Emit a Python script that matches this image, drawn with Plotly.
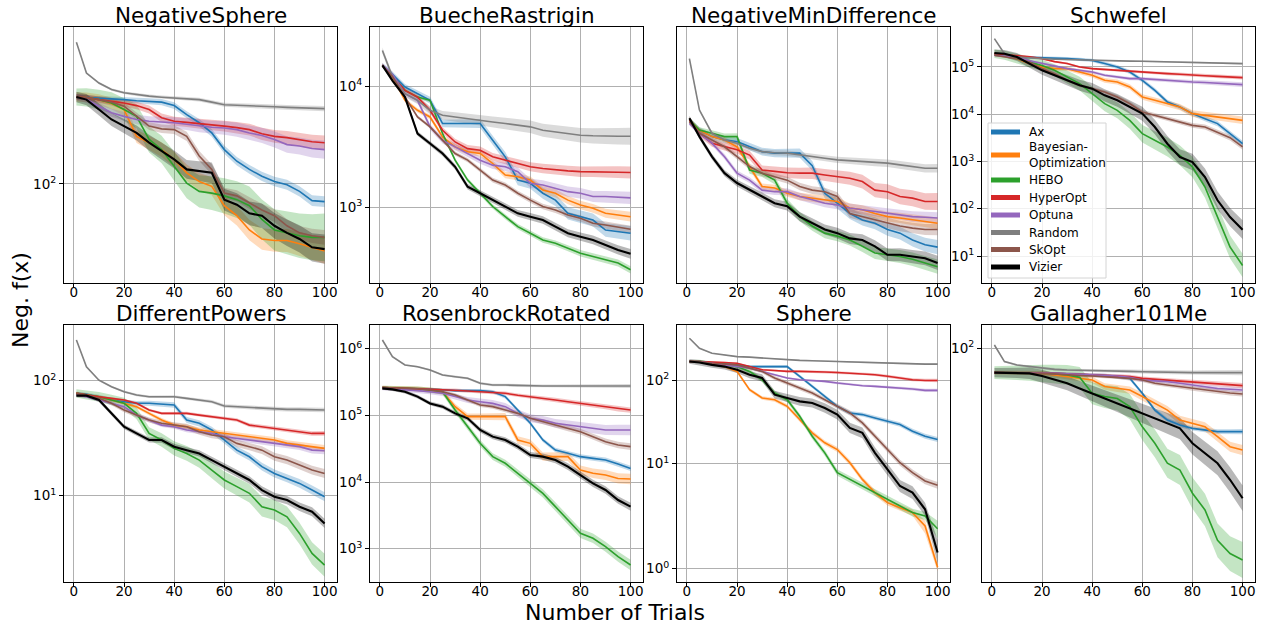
import numpy as np
import plotly.graph_objects as go

TRIALS = [1, 5, 10, 15, 20, 25, 30, 35, 40, 45, 50, 55, 60, 65, 70, 75, 80, 85, 90, 95, 100]
ALGORITHMS = ["Ax", "Bayesian-Optimization", "HEBO", "HyperOpt", "Optuna", "Random", "SkOpt", "Vizier"]
LEGEND_NAMES = ["Ax", "Bayesian-<br>Optimization", "HEBO", "HyperOpt", "Optuna", "Random", "SkOpt", "Vizier"]
COLORS = ["#1f77b4", "#ff7f0e", "#2ca02c", "#d62728", "#9467bd", "#7f7f7f", "#8c564b", "#000000"]
TITLES = ["NegativeSphere", "BuecheRastrigin", "NegativeMinDifference", "Schwefel",
          "DifferentPowers", "RosenbrockRotated", "Sphere", "Gallagher101Me"]

negative_sphere = {
    "Ax": [299, 297, 295, 292, 289, 285, 283, 280, 268, 239, 216, 190, 154, 133, 120, 110, 103, 99, 91, 81, 80],
    "Bayesian-Optimization": [299, 297, 289, 275, 255, 182, 168, 154, 136, 115, 103, 97, 76, 67, 56, 50, 49, 49, 47, 45, 43],
    "HEBO": [299, 297, 289, 277, 255, 234, 175, 154, 125, 101, 91, 89, 86, 82, 76, 64, 56, 54, 52, 51, 51],
    "HyperOpt": [299, 297, 289, 283, 277, 268, 255, 230, 220, 217, 214, 210, 207, 203, 198, 188, 182, 179, 175, 170, 168],
    "Optuna": [299, 290, 266, 245, 234, 225, 220, 218, 216, 212, 207, 204, 202, 198, 190, 184, 175, 164, 161, 156, 154],
    "Random": [596, 404, 356, 328, 315, 308, 302, 298, 295, 292, 289, 280, 271, 269, 268, 266, 264, 262, 260, 259, 258],
    "SkOpt": [299, 297, 289, 280, 266, 234, 207, 200, 198, 182, 142, 120, 89, 86, 79, 72, 67, 59, 54, 52, 51],
    "Vizier": [299, 289, 255, 225, 207, 190, 168, 151, 136, 120, 117, 115, 82, 77, 69, 67, 59, 54, 50, 45, 44],
}
bueche_rastrigin = {
    "Ax": [14800, 12500, 9810, 8600, 7620, 4900, 4900, 4900, 4900, 3560, 2600, 1670, 1570, 1300, 1140, 887, 832, 781, 645, 627, 607],
    "Bayesian-Optimization": [14800, 11900, 7620, 6300, 5550, 3800, 3140, 2860, 2770, 2290, 1840, 1780, 1670, 1380, 1300, 1140, 1040, 975, 887, 859, 832],
    "HEBO": [14800, 12000, 9210, 8100, 7620, 4050, 2440, 1670, 1300, 1010, 832, 689, 607, 534, 501, 456, 415, 390, 366, 344, 303],
    "HyperOpt": [14800, 12000, 9210, 8100, 6300, 4310, 3450, 3040, 2950, 2600, 2440, 2290, 2150, 2080, 2020, 1990, 1960, 1960, 1960, 1940, 1930],
    "Optuna": [14800, 12500, 8650, 7620, 4600, 3560, 3140, 2770, 2440, 2220, 2150, 1960, 1570, 1520, 1430, 1340, 1300, 1220, 1220, 1200, 1190],
    "Random": [19700, 11900, 8650, 7620, 6300, 5730, 5550, 5400, 5210, 5050, 4900, 4750, 4600, 4310, 4180, 4050, 3920, 3880, 3850, 3850, 3850],
    "SkOpt": [14800, 12000, 8110, 5550, 4600, 3560, 2770, 2440, 2020, 1670, 1520, 1300, 1140, 1010, 944, 859, 807, 733, 711, 680, 654],
    "Vizier": [14800, 11100, 8110, 4050, 3350, 2770, 2150, 1470, 1300, 1140, 1010, 887, 832, 781, 689, 607, 569, 534, 486, 442, 410],
}
negative_min_difference = {
    "Ax": [4.20, 3.87, 3.67, 3.57, 3.53, 3.38, 3.25, 3.21, 3.21, 3.21, 2.90, 2.32, 2.14, 1.97, 1.87, 1.82, 1.73, 1.68, 1.59, 1.53, 1.50],
    "Bayesian-Optimization": [4.20, 3.87, 3.67, 3.57, 3.38, 2.88, 2.45, 2.42, 2.32, 2.26, 2.23, 2.20, 2.17, 2.06, 2.03, 1.97, 1.92, 1.90, 1.87, 1.85, 1.82],
    "HEBO": [4.20, 3.87, 3.77, 3.67, 3.67, 2.80, 2.73, 2.58, 2.14, 1.92, 1.78, 1.68, 1.64, 1.59, 1.51, 1.43, 1.41, 1.39, 1.36, 1.32, 1.28],
    "HyperOpt": [4.20, 3.77, 3.48, 3.38, 3.30, 3.16, 2.80, 2.77, 2.74, 2.73, 2.73, 2.69, 2.66, 2.62, 2.55, 2.38, 2.35, 2.26, 2.23, 2.17, 2.17],
    "Optuna": [4.08, 3.77, 3.48, 3.12, 2.73, 2.58, 2.38, 2.35, 2.35, 2.26, 2.20, 2.14, 2.11, 2.06, 2.03, 2.00, 1.97, 1.95, 1.92, 1.91, 1.90],
    "Random": [6.90, 4.55, 3.77, 3.57, 3.48, 3.34, 3.25, 3.22, 3.21, 3.16, 3.12, 3.08, 3.04, 3.02, 3.00, 2.97, 2.96, 2.92, 2.88, 2.84, 2.84],
    "SkOpt": [4.14, 3.77, 3.57, 3.38, 3.12, 2.88, 2.73, 2.66, 2.58, 2.45, 2.38, 2.35, 2.26, 1.97, 1.92, 1.87, 1.82, 1.78, 1.75, 1.73, 1.73],
    "Vizier": [4.26, 3.67, 3.12, 2.73, 2.52, 2.38, 2.26, 2.14, 2.09, 1.92, 1.82, 1.73, 1.68, 1.61, 1.59, 1.51, 1.41, 1.41, 1.39, 1.37, 1.32],
}
schwefel = {
    "Ax": [191000, 177000, 163000, 160000, 158000, 155000, 150000, 145000, 138000, 118000, 100000, 78300, 52200, 32100, 18200, 14200, 10300, 8070, 6330, 3880, 2380],
    "Bayesian-Optimization": [191000, 177000, 150000, 118000, 100000, 92200, 92200, 78300, 66700, 52200, 48200, 37800, 23200, 19700, 16800, 14200, 10300, 9480, 8750, 8070, 7430],
    "HEBO": [191000, 177000, 150000, 125000, 108000, 85000, 61400, 44400, 27300, 16800, 12100, 7430, 3880, 2810, 2030, 1350, 766, 289, 66.8, 15.5, 6.3],
    "HyperOpt": [191000, 185000, 177000, 165000, 150000, 130000, 118000, 100000, 92200, 88000, 85000, 81000, 78300, 75000, 72300, 70000, 66700, 65000, 63400, 61000, 59400],
    "Optuna": [177000, 170000, 163000, 135000, 118000, 105000, 92200, 85000, 78300, 66700, 61400, 56600, 56600, 54000, 52200, 50000, 48200, 47000, 45800, 44000, 42300],
    "Random": [398000, 191000, 163000, 155000, 150000, 146000, 143000, 140000, 138000, 136000, 134000, 133000, 132000, 130000, 128000, 126000, 124000, 123000, 122000, 120000, 118000],
    "SkOpt": [177000, 163000, 150000, 128000, 92200, 72300, 52200, 40900, 34800, 29600, 23200, 16800, 11200, 9480, 8070, 6860, 5820, 5370, 4210, 3190, 2030],
    "Vizier": [198000, 191000, 163000, 118000, 85000, 66700, 52200, 40900, 34800, 25100, 19700, 14200, 10300, 5370, 2380, 1240, 975, 470, 151, 66.8, 36.1],
}
different_powers = {
    "Ax": [77.6, 76.0, 72.6, 67.9, 65.7, 63.6, 63.6, 62.6, 61.4, 45.5, 42.6, 37.3, 30.5, 24.9, 21.8, 17.9, 15.6, 14.2, 12.8, 11.2, 9.80],
    "Bayesian-Optimization": [77.6, 75.0, 72.6, 67.9, 63.6, 59.4, 52.0, 45.5, 41.1, 39.8, 37.3, 36.0, 34.8, 33.7, 32.6, 31.5, 30.5, 28.5, 27.6, 26.7, 25.8],
    "HEBO": [77.6, 75.0, 72.6, 67.9, 63.6, 52.0, 34.8, 30.5, 25.8, 23.3, 20.4, 16.7, 13.7, 12.0, 10.5, 8.02, 7.50, 6.56, 4.70, 3.15, 2.49],
    "HyperOpt": [77.6, 75.0, 72.6, 70.2, 67.9, 63.6, 55.6, 52.0, 52.0, 52.0, 50.2, 48.6, 47.0, 45.5, 41.1, 39.8, 38.5, 37.3, 36.0, 34.8, 34.8],
    "Optuna": [75.0, 72.6, 67.9, 63.6, 59.4, 50.2, 45.5, 41.1, 39.8, 37.3, 36.0, 34.8, 32.6, 31.5, 30.5, 29.5, 28.5, 27.6, 26.7, 24.9, 24.6],
    "Random": [226, 132, 101, 88.7, 80.2, 75.0, 72.6, 72.6, 72.6, 70.2, 67.9, 65.7, 60.2, 59.4, 58.6, 57.4, 56.7, 56.3, 56.3, 55.6, 55.6],
    "SkOpt": [77.6, 75.0, 70.2, 63.6, 55.6, 50.2, 45.5, 42.6, 41.1, 39.8, 36.0, 33.7, 32.6, 28.5, 26.7, 24.9, 21.8, 20.4, 18.5, 16.7, 15.6],
    "Vizier": [74.1, 74.1, 67.9, 52.0, 39.8, 34.8, 30.5, 30.5, 26.7, 24.9, 23.3, 20.4, 17.9, 15.6, 13.7, 11.2, 9.80, 9.17, 8.02, 7.26, 5.74],
}
rosenbrock_rotated = {
    "Ax": [260000, 258000, 254000, 250000, 245000, 242000, 235000, 235000, 235000, 226000, 191000, 120000, 75900, 42700, 30200, 26900, 24000, 22600, 21400, 18600, 16000],
    "Bayesian-Optimization": [260000, 258000, 254000, 250000, 240000, 226000, 135000, 95500, 95500, 95500, 95500, 42700, 38000, 24000, 24000, 24000, 15100, 13500, 12700, 11300, 11100],
    "HEBO": [260000, 258000, 254000, 250000, 240000, 226000, 120000, 67600, 38000, 24000, 19100, 13500, 9550, 6760, 4270, 2690, 1700, 1430, 1070, 759, 569],
    "HyperOpt": [260000, 258000, 254000, 250000, 245000, 242000, 240000, 232000, 226000, 220000, 214000, 200000, 191000, 180000, 170000, 160000, 151000, 143000, 135000, 125000, 120000],
    "Optuna": [254000, 250000, 245000, 235000, 226000, 214000, 191000, 170000, 160000, 151000, 135000, 107000, 90200, 85100, 75900, 71600, 69200, 63800, 60300, 60300, 60300],
    "Random": [1350000, 759000, 569000, 537000, 479000, 403000, 380000, 359000, 302000, 285000, 285000, 280000, 275000, 275000, 275000, 275000, 275000, 275000, 275000, 275000, 275000],
    "SkOpt": [260000, 258000, 254000, 250000, 240000, 226000, 202000, 170000, 143000, 135000, 120000, 107000, 90200, 80400, 71600, 63800, 56900, 47900, 40300, 35900, 33900],
    "Vizier": [254000, 245000, 226000, 191000, 151000, 135000, 107000, 90200, 60300, 47900, 42700, 33900, 25400, 24000, 21400, 17000, 12700, 9550, 7590, 5370, 4270],
}
sphere = {
    "Ax": [167, 167, 159, 155, 152, 145, 145, 145, 145, 111, 84.1, 64.0, 48.6, 40.5, 38.7, 35.3, 32.2, 29.4, 24.5, 21.3, 19.5],
    "Bayesian-Optimization": [167, 167, 159, 145, 127, 76.7, 61.1, 58.3, 48.6, 33.7, 23.4, 17.8, 14.8, 10.3, 6.50, 4.52, 3.43, 2.99, 2.61, 1.92, 1.03],
    "HEBO": [167, 167, 159, 155, 145, 127, 101, 70.0, 58.3, 36.9, 21.3, 13.5, 7.82, 6.50, 5.42, 4.52, 3.76, 3.13, 2.61, 2.38, 1.86],
    "HyperOpt": [167, 167, 164, 162, 159, 145, 133, 130, 127, 127, 127, 125, 123, 121, 119, 116, 111, 106, 101, 99, 99],
    "Optuna": [167, 167, 159, 152, 145, 139, 127, 116, 106, 101, 99, 96.4, 92.1, 88.0, 85.6, 84.1, 82.6, 80.4, 78.2, 75.4, 75.4],
    "Random": [316, 240, 209, 200, 191, 188, 183, 179, 175, 172, 170, 168, 167, 164, 162, 160, 159, 157, 156, 155, 155],
    "SkOpt": [167, 167, 159, 155, 152, 139, 127, 106, 92.1, 80.4, 70.0, 58.3, 48.6, 40.5, 30.8, 21.3, 14.8, 10.3, 7.82, 6.22, 5.52],
    "Vizier": [167, 162, 152, 145, 133, 116, 106, 67.0, 61.1, 55.7, 53.2, 46.4, 38.7, 26.8, 23.4, 13.5, 8.57, 5.42, 4.52, 2.86, 1.35],
}
gallagher101me = {
    "Ax": [80.4, 80.4, 80.4, 80.4, 79.9, 79.9, 79.5, 79.2, 78.8, 78.4, 77.6, 76.4, 66.8, 57.5, 52.6, 50.3, 48.8, 48.1, 47.4, 47.4, 47.4],
    "Bayesian-Optimization": [80.4, 80.4, 80.4, 80.4, 79.9, 78.8, 77.6, 76.4, 75.3, 71.0, 69.8, 68.8, 64.9, 61.1, 57.5, 52.6, 51.0, 49.5, 45.3, 41.4, 40.2],
    "HEBO": [80.4, 80.4, 80.4, 80.4, 79.9, 79.5, 78.8, 77.1, 66.8, 64.9, 63.8, 59.3, 49.5, 42.7, 35.7, 33.6, 27.3, 23.5, 17.9, 15.9, 15.0],
    "HyperOpt": [80.4, 80.4, 80.4, 80.4, 79.9, 79.9, 79.5, 79.2, 78.8, 78.4, 78.0, 77.6, 76.4, 75.8, 75.3, 74.7, 74.2, 73.6, 73.1, 72.3, 71.6],
    "Optuna": [80.4, 80.4, 80.4, 80.4, 79.9, 79.9, 79.5, 79.2, 78.8, 78.4, 78.0, 77.1, 75.3, 74.7, 74.2, 73.1, 72.0, 71.0, 69.8, 69.3, 68.8],
    "Random": [103, 88.8, 86.1, 84.9, 83.6, 82.8, 82.3, 82.0, 81.8, 81.7, 81.6, 81.3, 81.1, 80.8, 80.6, 80.5, 80.4, 80.4, 80.4, 80.4, 80.4],
    "SkOpt": [80.4, 80.4, 80.4, 80.4, 79.9, 79.5, 79.2, 78.4, 78.0, 77.6, 77.1, 76.4, 75.3, 73.1, 72.0, 71.0, 69.8, 68.8, 67.8, 67.0, 66.4],
    "Vizier": [80.4, 80.4, 80.4, 79.9, 78.0, 75.3, 73.1, 69.8, 66.8, 63.8, 61.1, 58.5, 55.9, 53.4, 51.0, 48.8, 42.7, 39.0, 35.7, 30.8, 26.1],
}
PANELS = [negative_sphere, bueche_rastrigin, negative_min_difference, schwefel,
          different_powers, rosenbrock_rotated, sphere, gallagher101me]

# half-width of the shaded band, in decades (Ax, BO, HEBO, HyperOpt, Optuna, Random, SkOpt, Vizier)
BAND_WIDTHS = [
    [0.03, 0.07, 0.13, 0.04, 0.05, 0.015, 0.04, 0.08],
    [0.06, 0.04, 0.03, 0.05, 0.05, 0.07, 0.03, 0.04],
    [0.025, 0.02, 0.025, 0.03, 0.02, 0.015, 0.02, 0.025],
    [0.06, 0.08, 0.25, 0.04, 0.05, 0.02, 0.06, 0.2],
    [0.04, 0.03, 0.1, 0.02, 0.03, 0.02, 0.04, 0.04],
    [0.04, 0.08, 0.08, 0.04, 0.08, 0.03, 0.05, 0.06],
    [0.03, 0.04, 0.05, 0.02, 0.02, 0.01, 0.04, 0.08],
    [0.01, 0.02, 0.07, 0.01, 0.01, 0.01, 0.01, 0.05],
]
# y ranges (log10 decades; Sphere panel uses symlog coordinates)
Y_RANGES = [[1.458, 2.858], [2.372, 4.488], [0.05, 0.95], [0.429, 5.846],
            [0.250, 2.484], [2.5, 6.355], [0.794, 6.937], [1.0907, 2.0907]]
Y_TICK_EXPONENTS = [[2], [3, 4], [], [1, 2, 3, 4, 5], [1, 2], [3, 4, 5, 6], [0, 1, 2], [2]]
SYMLOG_PANEL = 6

COL_PX = [(64, 337), (370, 643), (677, 950), (982, 1255)]
ROW_PX = [(27, 283), (325, 582)]
W, H = 1263, 625
FONT = "DejaVu Sans"

# hand-built legend geometry (pixels)
LEG_BOX = (988, 123, 1106, 278)
LEG_ROWS = [132, 155, 180, 197.5, 215, 232.5, 249.5, 267]
LEG_LINE_X = (991, 1020)
LEG_TEXT_X = 1027


def symlog(v, linthresh=2.0):
    v = np.asarray(v, dtype=float)
    scale = 1.0 / (1.0 - 1.0 / 10.0)
    return np.where(v > linthresh, linthresh * (scale + np.log10(np.maximum(v, 1e-12) / linthresh)), v * scale)


def hex_rgba(h, a):
    h = h.lstrip("#")
    return "rgba(%d,%d,%d,%.2f)" % (int(h[0:2], 16), int(h[2:4], 16), int(h[4:6], 16), a)


fig = go.Figure()
x = np.array(TRIALS, dtype=float)
ramp = 0.35 + 0.65 * x / 100.0

for p, panel in enumerate(PANELS):
    xa = "x" if p == 0 else "x%d" % (p + 1)
    ya = "y" if p == 0 else "y%d" % (p + 1)
    for a, algo in enumerate(ALGORITHMS):
        v = np.array(panel[algo], dtype=float)
        w = BAND_WIDTHS[p][a] * ramp
        up = v * 10 ** w
        lo = v / 10 ** w
        if p == SYMLOG_PANEL:
            up, lo = symlog(up), symlog(lo)
        fig.add_trace(go.Scatter(
            x=np.concatenate([x, x[::-1]]), y=np.concatenate([up, lo[::-1]]),
            fill="toself", fillcolor=hex_rgba(COLORS[a], 0.28), line=dict(width=0),
            mode="lines", hoverinfo="skip", showlegend=False, xaxis=xa, yaxis=ya))
    for a, algo in enumerate(ALGORITHMS):
        v = np.array(panel[algo], dtype=float)
        if p == SYMLOG_PANEL:
            v = symlog(v)
        fig.add_trace(go.Scatter(
            x=x, y=v, mode="lines", line=dict(color=COLORS[a], width=2.1 if algo == "Vizier" else 1.6),
            showlegend=False, name=algo, xaxis=xa, yaxis=ya))

layout = dict(
    width=W, height=H, margin=dict(l=0, r=0, t=0, b=0),
    paper_bgcolor="white", plot_bgcolor="white",
    font=dict(family=FONT, color="black", size=13),
    showlegend=False,
)

annotations = []
shapes = []
for p in range(8):
    r, c = divmod(p, 4)
    x0, x1 = COL_PX[c]
    y0, y1 = ROW_PX[r]
    sfx = "" if p == 0 else str(p + 1)
    common_axis = dict(showline=True, linecolor="black", linewidth=1, mirror=True,
                       ticks="outside", ticklen=4, tickwidth=1, tickcolor="black",
                       showgrid=True, gridcolor="#b0b0b0", gridwidth=1, zeroline=False,
                       tickfont=dict(family=FONT, size=13.5, color="black"))
    layout["xaxis" + sfx] = dict(domain=[x0 / W, x1 / W], anchor="y" + sfx,
                                 range=[-3.95, 104.95], tickvals=[0, 20, 40, 60, 80, 100],
                                 ticklabelstandoff=-7, **common_axis)
    exps = Y_TICK_EXPONENTS[p]
    ticktext = ["10<sup>%d</sup>" % e for e in exps]
    if p == SYMLOG_PANEL:
        tickvals = list(symlog([10.0 ** e for e in exps]))
        ytype = "linear"
    else:
        tickvals = [10.0 ** e for e in exps]
        ytype = "log"
    layout["yaxis" + sfx] = dict(domain=[1 - y1 / H, 1 - y0 / H], anchor="x" + sfx, type=ytype,
                                 range=Y_RANGES[p], tickvals=tickvals, ticktext=ticktext,
                                 **common_axis)
    annotations.append(dict(text=TITLES[p], x=(x0 + x1) / 2 / W, y=1 - (y0 + 3) / H,
                            xref="paper", yref="paper", xanchor="center", yanchor="bottom",
                            showarrow=False, font=dict(family=FONT, size=21.5, color="black")))

# legend (drawn in the Schwefel panel)
bx0, by0, bx1, by1 = LEG_BOX
shapes.append(dict(type="rect", xref="paper", yref="paper", x0=bx0 / W, x1=bx1 / W,
                   y0=1 - by1 / H, y1=1 - by0 / H, fillcolor="rgba(255,255,255,0.82)",
                   line=dict(color="#d4d4d4", width=1), layer="above"))
for a in range(len(ALGORITHMS)):
    yc = LEG_ROWS[a]
    shapes.append(dict(type="line", xref="paper", yref="paper",
                       x0=LEG_LINE_X[0] / W, x1=LEG_LINE_X[1] / W, y0=1 - yc / H, y1=1 - yc / H,
                       line=dict(color=COLORS[a], width=5), layer="above"))
    annotations.append(dict(text=LEGEND_NAMES[a], x=LEG_TEXT_X / W, y=1 - yc / H,
                            xref="paper", yref="paper", xanchor="left", yanchor="middle",
                            align="left", showarrow=False,
                            font=dict(family=FONT, size=12, color="black")))

annotations.append(dict(text="Neg. f(x)", x=20 / W, y=1 - 300 / H, xref="paper", yref="paper",
                        xanchor="center", yanchor="middle", textangle=-90, showarrow=False,
                        font=dict(family=FONT, size=22, color="black")))
annotations.append(dict(text="Number of Trials", x=615 / W, y=1 - 612 / H, xref="paper", yref="paper",
                        xanchor="center", yanchor="middle", showarrow=False,
                        font=dict(family=FONT, size=22, color="black")))
layout["annotations"] = annotations
layout["shapes"] = shapes
fig.update_layout(**layout)
fig.write_html("out.html")
